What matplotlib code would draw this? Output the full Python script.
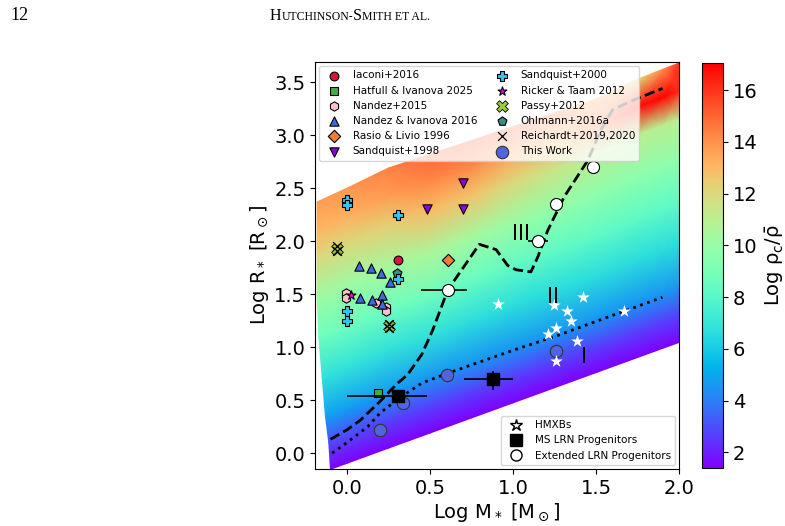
import numpy as np
import matplotlib
matplotlib.use('Agg')
import matplotlib.pyplot as plt
from matplotlib.lines import Line2D

plt.rcParams['mathtext.default'] = 'regular'

# ---- literature common envelope simulations (log M, log R) ----
iaconi_m = [0.305]
iaconi_r = [1.82]
hatfull_m = [0.185]
hatfull_r = [0.57]
nandez15_m = [-0.006, -0.006, 0.175, 0.235, 0.235]
nandez15_r = [1.51, 1.46, 1.42, 1.38, 1.34]
nandez16_m = [0.074, 0.145, 0.205, 0.259, 0.08, 0.149, 0.209, 0.209]
nandez16_r = [1.77, 1.75, 1.70, 1.61, 1.46, 1.44, 1.49, 1.41]
rasio_m = [0.607]
rasio_r = [1.82]
sand98_m = [0.70, 0.48, 0.70]
sand98_r = [2.55, 2.30, 2.30]
sand00_m = [0.0, 0.0, 0.305, 0.305, 0.0, 0.0]
sand00_r = [2.39, 2.34, 2.25, 1.64, 1.34, 1.25]
ricker_m = [0.024]
ricker_r = [1.49]
passy_m = [-0.06, 0.255]
passy_r = [1.93, 1.20]
ohlmann_m = [0.30]
ohlmann_r = [1.70]
reich_m = [-0.06, -0.06, 0.255, 0.255]
reich_r = [1.95, 1.91, 1.22, 1.18]
thiswork_m = [0.20, 0.335, 0.60, 1.26]
thiswork_r = [0.22, 0.47, 0.74, 0.96]

# ---- observed systems ----
hmxb_m = [0.907, 1.42, 1.249, 1.325, 1.349, 1.259, 1.209, 1.386, 1.667, 1.259]
hmxb_r = [1.41, 1.47, 1.40, 1.34, 1.25, 1.18, 1.12, 1.06, 1.34, 0.87]
ms_m = [0.305, 0.877]
ms_r = [0.54, 0.695]
ms_m_lo = [0.305, 0.17]
ms_m_hi = [0.175, 0.125]
ms_r_lo = [0.0, 0.095]
ms_r_hi = [0.0, 0.075]
ext_m = [0.606, 1.149, 1.259, 1.48]
ext_r = [1.54, 2.00, 2.35, 2.70]
ext_m_lo = [0.16, 0.06, 0.0, 0.0]
ext_m_hi = [0.117, 0.06, 0.0, 0.0]

# ---- boundary curves ----
dash_m = [-0.10, 0.0, 0.08, 0.2, 0.305, 0.365, 0.45, 0.516, 0.607, 0.70, 0.797,
          0.898, 0.968, 1.018, 1.108, 1.149, 1.209, 1.309, 1.45, 1.53, 1.60, 1.74, 1.90]
dash_r = [0.13, 0.22, 0.31, 0.49, 0.66, 0.74, 0.93, 1.16, 1.54, 1.75, 1.97,
          1.92, 1.77, 1.73, 1.71, 1.85, 2.10, 2.42, 2.76, 3.05, 3.24, 3.34, 3.44]
dot_m = [-0.09, 0.0, 0.125, 0.2, 0.325, 0.45, 0.6, 1.0, 1.27, 1.6, 1.9]
dot_r = [0.0, 0.1, 0.25, 0.38, 0.53, 0.66, 0.75, 0.97, 1.11, 1.30, 1.47]

# ---- background grid of log rho_c/rho_bar ----
edge_m = [-0.18, 0.0, 0.25, 0.5, 1.0, 1.5, 1.78, 2.0]
edge_lo = [-0.199, -0.096, 0.047, 0.189, 0.474, 0.759, 0.919, 1.044]
edge_hi = [2.37, 2.50, 2.69, 2.82, 3.08, 3.34, 3.55, 3.68]
grid_m = [-0.18, 0.0, 0.25, 0.5, 0.75, 1.0, 1.25, 1.5, 1.75, 1.9, 2.0]
grid_left = [-0.10, -0.11, -0.13, -0.15, -0.17, -0.18, -0.18, -0.18, -0.18]
grid_frac = [0.0, 0.1, 0.2, 0.35, 0.5, 0.65, 0.8, 0.9, 1.0]
rho_grid = [
    [1.4, 1.4, 1.4, 1.4, 1.4, 1.4, 1.4, 1.4, 1.4, 1.4, 1.4],
    [2.9, 2.9, 2.8, 2.8, 2.8, 2.8, 2.8, 2.8, 2.8, 2.8, 2.8],
    [4.8, 4.8, 4.7, 4.6, 4.6, 4.6, 4.6, 4.6, 4.6, 4.6, 4.6],
    [6.9, 6.9, 6.8, 6.8, 6.7, 6.6, 6.6, 6.6, 6.6, 6.6, 6.6],
    [8.7, 8.7, 8.7, 8.8, 8.6, 8.4, 8.3, 8.2, 8.2, 8.2, 8.2],
    [10.2, 10.2, 10.4, 10.6, 10.3, 10.0, 9.8, 9.6, 9.6, 9.6, 9.6],
    [12.0, 12.0, 12.4, 12.9, 12.7, 12.0, 11.5, 11.0, 11.0, 11.0, 11.0],
    [13.1, 13.2, 13.7, 14.2, 14.1, 13.5, 13.3, 14.5, 16.8, 17.0, 16.3],
    [13.7, 13.9, 14.4, 15.0, 15.3, 15.0, 14.5, 13.5, 12.0, 14.0, 16.0],
]

fig = plt.figure(figsize=(7.85, 5.26), dpi=100)
ax = fig.add_axes([315/785, 57/526, 364/785, 407/526])
cax = fig.add_axes([702/785, 58/526, 21/785, 405/526])

# curvilinear mesh following the model band
frac = np.array(grid_frac)
X = np.tile(np.array(grid_m, dtype=float), (len(frac), 1))
X[:, 0] = grid_left
lo = np.interp(X, edge_m, edge_lo)
hi = np.interp(X, edge_m, edge_hi)
Y = lo + frac[:, None] * (hi - lo)
mesh = ax.pcolormesh(X, Y, np.array(rho_grid), shading='gouraud',
                     cmap='rainbow', vmin=1.4, vmax=17.05, zorder=0)

ax.plot(dash_m, dash_r, 'k--', lw=2, zorder=2)
ax.plot(dot_m, dot_r, 'k:', lw=2, zorder=2)

ec = 'k'
ew = 0.8
ax.scatter(iaconi_m, iaconi_r, marker='o', s=40, c='crimson', edgecolors=ec, linewidths=ew, label='Iaconi+2016', zorder=3)
ax.scatter(hatfull_m, hatfull_r, marker='s', s=40, c='#3cb043', edgecolors=ec, linewidths=ew, label='Hatfull & Ivanova 2025', zorder=3)
ax.scatter(nandez15_m, nandez15_r, marker='h', s=45, c='pink', edgecolors=ec, linewidths=ew, label='Nandez+2015', zorder=3)
ax.scatter(nandez16_m, nandez16_r, marker='^', s=45, c='royalblue', edgecolors=ec, linewidths=ew, label='Nandez & Ivanova 2016', zorder=3)
ax.scatter(rasio_m, rasio_r, marker='D', s=40, c='#f08030', edgecolors=ec, linewidths=ew, label='Rasio & Livio 1996', zorder=3)
ax.scatter(sand98_m, sand98_r, marker='v', s=45, c='darkviolet', edgecolors=ec, linewidths=ew, label='Sandquist+1998', zorder=3)
ax.scatter(ohlmann_m, ohlmann_r, marker='p', s=45, c='#3d8b85', edgecolors=ec, linewidths=ew, zorder=3)
ax.scatter(sand00_m, sand00_r, marker='P', s=45, c='#35c4ee', edgecolors=ec, linewidths=ew, label='Sandquist+2000', zorder=3)
ax.scatter(ricker_m, ricker_r, marker='*', s=45, c='magenta', edgecolors=ec, linewidths=ew, label='Ricker & Taam 2012', zorder=3)
ax.scatter(passy_m, passy_r, marker='X', s=70, c='yellowgreen', edgecolors=ec, linewidths=0.6, label='Passy+2012', zorder=3)
ax.scatter([], [], marker='p', s=45, c='#3d8b85', edgecolors=ec, linewidths=ew, label='Ohlmann+2016a')
ax.scatter(reich_m, reich_r, marker='x', s=40, c='k', linewidths=0.9, label='Reichardt+2019,2020', zorder=3)

ax.errorbar(ms_m, ms_r, xerr=[ms_m_lo, ms_m_hi], yerr=[ms_r_lo, ms_r_hi],
            fmt='none', ecolor='k', elinewidth=1.2, zorder=3)
ax.errorbar(ext_m, ext_r, xerr=[ext_m_lo, ext_m_hi],
            fmt='none', ecolor='k', elinewidth=1.2, zorder=3)
ax.scatter(thiswork_m, thiswork_r, marker='o', s=80, c='#5064e0', edgecolors='#333333', linewidths=ew, label='This Work', zorder=4)
ax.scatter(hmxb_m, hmxb_r, marker='*', s=90, c='white', linewidths=0, zorder=4)
ax.scatter(ms_m, ms_r, marker='s', s=70, c='k', zorder=4)
ax.scatter(ext_m, ext_r, marker='o', s=75, c='white', edgecolors='k', linewidths=ew, zorder=4)

ax.text(1.05, 2.07, 'III', fontsize=15, ha='center', va='center', zorder=5)
ax.text(1.24, 1.47, 'II', fontsize=15, ha='center', va='center', zorder=5)
ax.text(1.425, 0.91, 'I', fontsize=15, ha='center', va='center', zorder=5)

leg1 = ax.legend(loc='upper left', ncol=2, fontsize=7.5, borderaxespad=0.4,
                 columnspacing=1.4, handletextpad=0.8)
ax.add_artist(leg1)
h2 = [Line2D([], [], ls='none', marker='*', ms=9, mfc='white', mec='k', mew=1.0),
      Line2D([], [], ls='none', marker='s', ms=8, mfc='k', mec='k'),
      Line2D([], [], ls='none', marker='o', ms=8, mfc='white', mec='k', mew=1.0)]
ax.legend(h2, ['HMXBs', 'MS LRN Progenitors', 'Extended LRN Progenitors'],
          loc='lower right', fontsize=7.5, borderaxespad=0.4)

ax.set_xlim(-0.193, 2.0)
ax.set_ylim(-0.15, 3.69)
ax.set_xticks(np.arange(0, 2.01, 0.5))
ax.set_yticks(np.arange(0, 3.51, 0.5))
ax.tick_params(labelsize=14)
ax.set_xlabel(r'Log M$_*$ [M$_\odot$]', fontsize=14, labelpad=2)
ax.set_ylabel(r'Log R$_*$ [R$_\odot$]', fontsize=14, labelpad=2)

cb = fig.colorbar(mesh, cax=cax, ticks=np.arange(2, 17, 2))
cb.ax.tick_params(labelsize=14)
cb.set_label(r'Log $\rho_c/\bar{\rho}$', fontsize=14)

# page header
fig.text(10/785, 1 - 20/526, '12', family='Liberation Serif', fontsize=13, va='baseline')
r = fig.canvas.get_renderer()
xpos = 270/785
for piece, size in [('H', 11.5), ('UTCHINSON-', 8.5), ('S', 11.5), ('MITH ET AL.', 8.5)]:
    t = fig.text(xpos, 1 - 20/526, piece, family='Liberation Serif', fontsize=size, va='baseline')
    xpos += t.get_window_extent(renderer=r).width / 785

fig.savefig('out.png', dpi=100)
